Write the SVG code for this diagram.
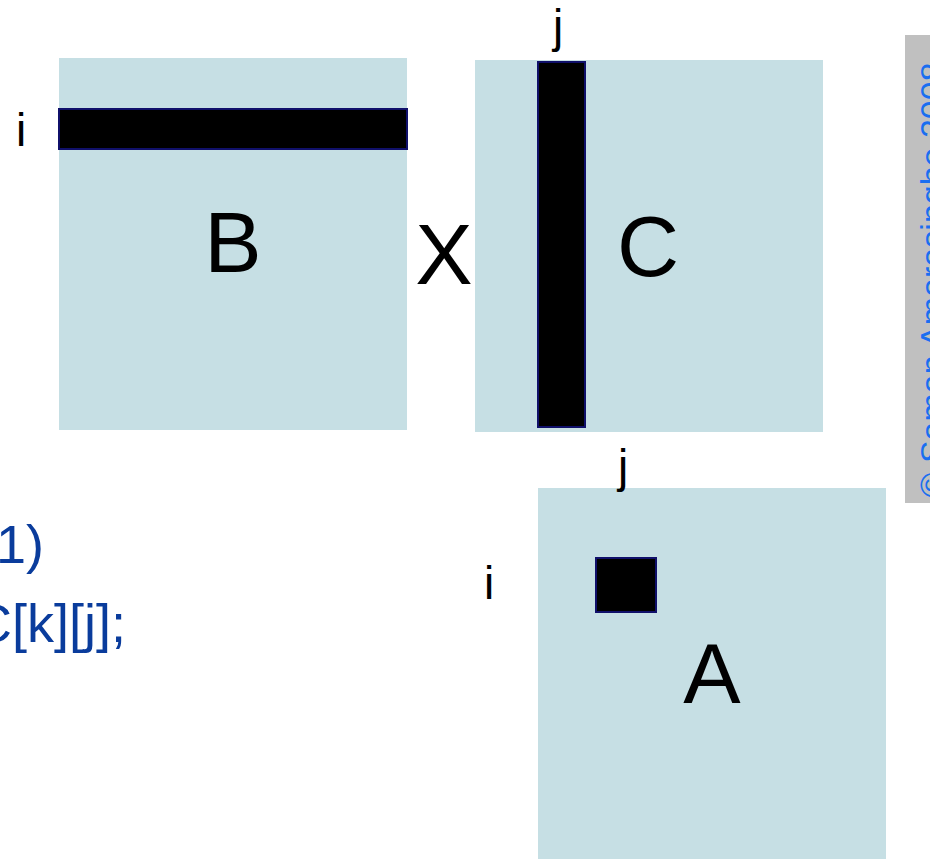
<svg xmlns="http://www.w3.org/2000/svg" width="935" height="859" viewBox="0 0 935 859">
<defs>
<style>
.mat{fill:#c6dfe4}
.bar{fill:#000;stroke:#10106a;stroke-width:2}
.big{font-family:"Liberation Sans",Arial,sans-serif;font-size:86px;fill:#000;text-anchor:middle}
.lbl{font-family:"Liberation Sans",Arial,sans-serif;font-size:46px;fill:#000;text-anchor:middle}
.code{font-family:"Liberation Sans",Arial,sans-serif;font-size:54px;fill:#0a3c9c;text-anchor:end}
.side{font-family:"Liberation Sans",Arial,sans-serif;font-size:34px;fill:#1a6ef0;text-anchor:middle}
</style>
<clipPath id="sideclip"><rect x="905" y="35" width="25" height="468"/></clipPath>
</defs>
<rect width="935" height="859" fill="#fff"/>
<g id="sidebar">
<rect x="905" y="35" width="25" height="468" fill="#c0c0c0"/>
<g clip-path="url(#sideclip)">
<text class="side" transform="translate(944,280) rotate(-90)">© Saman Amarasinghe 2008</text>
</g>
</g>
<g id="code">
<text class="code" x="44" y="563">1)</text>
<text class="code" x="126" y="642">C[k][j];</text>
</g>
<g id="matrixB">
<rect class="mat" x="59" y="58" width="348" height="372"/>
<rect class="bar" x="59" y="109" width="348" height="40"/>
<text class="big" x="233" y="272">B</text>
<text class="lbl" x="21" y="146">i</text>
</g>
<g id="times">
<text class="big" x="444" y="284">X</text>
</g>
<g id="matrixC">
<rect class="mat" x="475" y="60" width="348" height="372"/>
<rect class="bar" x="538" y="62" width="47" height="365"/>
<text class="big" x="648" y="276">C</text>
<text class="lbl" x="558" y="42">j</text>
</g>
<g id="matrixA">
<rect class="mat" x="538" y="488" width="348" height="371"/>
<rect class="bar" x="596" y="558" width="60" height="54"/>
<text class="big" x="712" y="703">A</text>
<text class="lbl" x="623" y="482">j</text>
<text class="lbl" x="489" y="599">i</text>
</g>
<g id="connectors"></g>
</svg>
